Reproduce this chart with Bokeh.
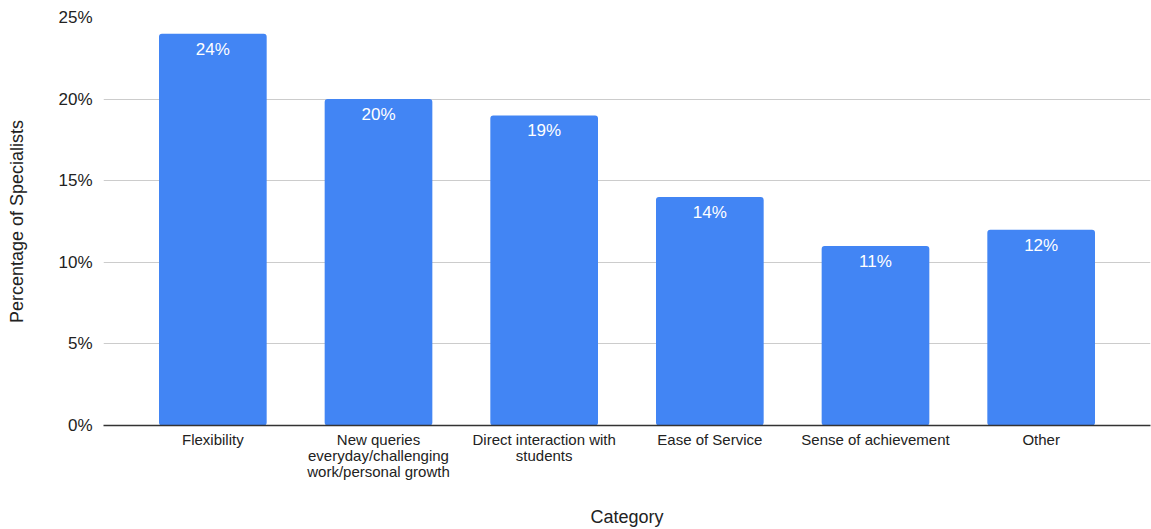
from bokeh.plotting import figure
from bokeh.models import ColumnDataSource, FactorRange, FixedTicker, NumeralTickFormatter, Range1d
from bokeh.core.properties import value
from bokeh.embed import file_html
from bokeh.resources import INLINE

categories = ["Flexibility",
              "New queries\neveryday/challenging\nwork/personal growth",
              "Direct interaction with\nstudents",
              "Ease of Service",
              "Sense of achievement",
              "Other"]
shares = [0.24, 0.20, 0.19, 0.14, 0.11, 0.12]
share_labels = ["24%", "20%", "19%", "14%", "11%", "12%"]
y_ticks = [0, 0.05, 0.10, 0.15, 0.20, 0.25]

FONT = "Liberation Sans"

src = ColumnDataSource(dict(cat=categories, val=shares, lab=share_labels))

p = figure(width=1151, height=529, output_backend="svg", toolbar_location=None,
           x_range=FactorRange(factors=categories, range_padding=0.16,
                               range_padding_units="absolute"),
           y_range=Range1d(0, 0.25),
           min_border_left=103, min_border_right=1, min_border_top=17,
           min_border_bottom=103)
p.outline_line_color = None
p.background_fill_color = "white"
p.border_fill_color = "white"

p.vbar(x="cat", top="val", width=0.65, source=src, fill_color="#4285F4",
       line_color=None, border_radius=3)
p.text(x="cat", y="val", text="lab", source=src, text_color="white",
       text_font=value(FONT), text_font_size="17px", text_align="center",
       text_baseline="top", y_offset=6)

p.xgrid.grid_line_color = None
p.ygrid.grid_line_color = "#cccccc"
p.ygrid.grid_line_width = 1
p.yaxis.ticker = FixedTicker(ticks=y_ticks)
p.yaxis.formatter = NumeralTickFormatter(format="0%")
p.yaxis.axis_line_color = None
p.yaxis.major_tick_line_color = None
p.yaxis.minor_tick_line_color = None
p.yaxis.major_tick_out = 0
p.yaxis.minor_tick_out = 0
p.yaxis.major_label_standoff = 11
p.yaxis.major_label_text_font = FONT
p.yaxis.major_label_text_font_size = "17px"
p.yaxis.major_label_text_color = "#222222"
p.yaxis.axis_label = "Percentage of Specialists"
p.yaxis.axis_label_text_font = FONT
p.yaxis.axis_label_text_font_size = "18px"
p.yaxis.axis_label_text_font_style = "normal"
p.yaxis.axis_label_text_color = "#222222"
p.yaxis.axis_label_standoff = 28

p.xaxis.axis_line_color = "#333333"
p.xaxis.axis_line_width = 1.5
p.xaxis.major_tick_line_color = None
p.xaxis.minor_tick_line_color = None
p.xaxis.major_tick_out = 0
p.xaxis.minor_tick_out = 0
p.xaxis.major_label_standoff = 5
p.xaxis.major_label_text_font = FONT
p.xaxis.major_label_text_font_size = "15px"
p.xaxis.major_label_text_line_height = 0.95
p.xaxis.major_label_text_color = "#222222"
p.xaxis.axis_label = "Category"
p.xaxis.axis_label_text_font = FONT
p.xaxis.axis_label_text_font_size = "18px"
p.xaxis.axis_label_text_font_style = "normal"
p.xaxis.axis_label_text_color = "#222222"
p.xaxis.axis_label_standoff = 24

open("out.html", "w").write(file_html(p, INLINE))
